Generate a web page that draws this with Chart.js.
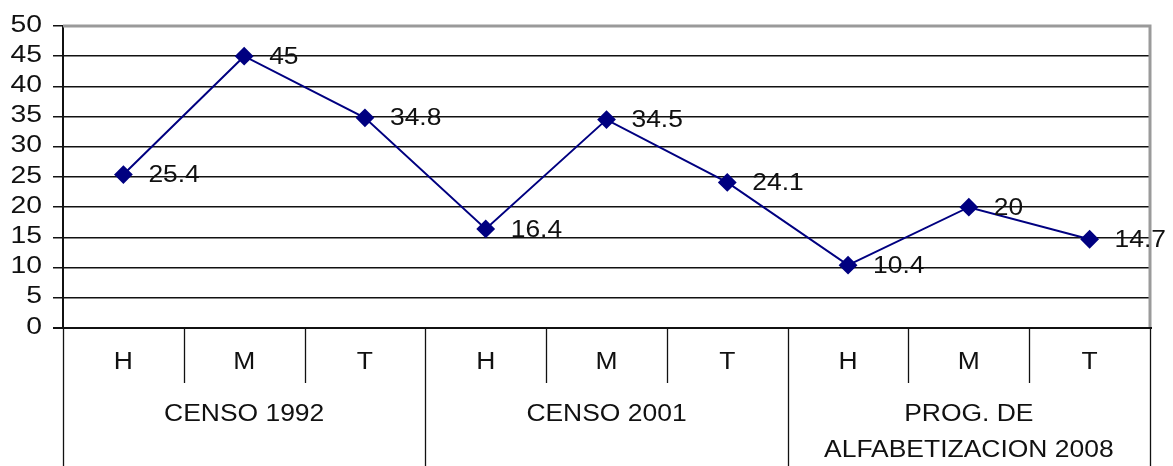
<!DOCTYPE html>
<html>
<head>
<meta charset="utf-8">
<script src="https://cdn.jsdelivr.net/npm/chart.js@4"></script>
<style>
html,body{margin:0;padding:0;background:#fff;}
#wrap{width:1173px;height:466px;position:relative;}
</style>
</head>
<body>
<div id="wrap"><canvas id="c" width="1173" height="466"></canvas></div>
<script>
const categories = ["H","M","T","H","M","T","H","M","T"];
const groups = [["CENSO 1992"],["CENSO 2001"],["PROG. DE","ALFABETIZACION 2008"]];
const groupSizes = [3,3,3];
const values = [25.4, 45, 34.8, 16.4, 34.5, 24.1, 10.4, 20, 14.7];
const valueLabels = ["25.4","45","34.8","16.4","34.5","24.1","10.4","20","14.7"];
const yTicks = [0,5,10,15,20,25,30,35,40,45,50];

const FONT = "'Liberation Sans', Arial, sans-serif";

function drawText(ctx, text, x, y, align, sx) {
  ctx.save();
  ctx.translate(x, y);
  ctx.scale(sx, 1);
  ctx.textAlign = align;
  ctx.fillText(text, 0, 0);
  ctx.restore();
}

const tablePlugin = {
  id: 'tablePlugin',
  afterDraw(chart) {
    const ctx = chart.ctx;
    const area = chart.chartArea;
    const xs = chart.scales.x;
    const ys = chart.scales.y;
    const H = chart.height;
    const n = categories.length;
    const step = (area.right - area.left) / n;
    ctx.save();
    // grey top & right border
    ctx.strokeStyle = '#9a9a9a';
    ctx.lineWidth = 3;
    ctx.beginPath();
    ctx.moveTo(area.left, area.top);
    ctx.lineTo(area.right, area.top);
    ctx.lineTo(area.right, area.bottom);
    ctx.stroke();
    // bottom axis line
    ctx.strokeStyle = '#111';
    ctx.lineWidth = 2;
    ctx.beginPath();
    ctx.moveTo(area.left - 10, area.bottom);
    ctx.lineTo(area.right + 2, area.bottom);
    ctx.stroke();
    // separators
    ctx.lineWidth = 1.3;
    let idx = 0;
    const groupBounds = [0];
    groupSizes.forEach(s => { idx += s; groupBounds.push(idx); });
    for (let i = 0; i <= n; i++) {
      const x = Math.round(area.left + i * step) + 0.5;
      const isGroup = groupBounds.includes(i);
      ctx.beginPath();
      ctx.moveTo(x, area.bottom);
      ctx.lineTo(x, isGroup ? H : area.bottom + 55);
      ctx.stroke();
    }
    ctx.fillStyle = '#111';
    ctx.textBaseline = 'middle';
    // y tick labels
    ctx.font = '24px ' + FONT;
    yTicks.forEach(v => {
      drawText(ctx, String(v), 42, ys.getPixelForValue(v) - 1, 'right', 1.18);
    });
    // category labels
    ctx.font = '23px ' + FONT;
    categories.forEach((c, i) => {
      drawText(ctx, c, xs.getPixelForValue(i), area.bottom + 35, 'center', 1.15);
    });
    // group labels
    groups.forEach((g, gi) => {
      const x0 = area.left + groupBounds[gi] * step;
      const x1 = area.left + groupBounds[gi + 1] * step;
      const cx = (x0 + x1) / 2;
      g.forEach((line, li) => {
        drawText(ctx, line, cx, area.bottom + 87 + li * 36, 'center', 1.15);
      });
    });
    // data labels
    ctx.font = '24px ' + FONT;
    const meta = chart.getDatasetMeta(0);
    meta.data.forEach((pt, i) => {
      drawText(ctx, valueLabels[i], pt.x + 25, pt.y + 1, 'left', 1.1);
    });
    ctx.restore();
  }
};

new Chart(document.getElementById('c'), {
  type: 'line',
  data: {
    labels: categories,
    datasets: [{
      data: values,
      borderColor: '#000080',
      backgroundColor: '#000080',
      borderWidth: 2,
      pointStyle: 'rectRot',
      pointRadius: 8,
      pointHoverRadius: 8,
      tension: 0,
      fill: false
    }]
  },
  options: {
    responsive: false,
    animation: false,
    events: [],
    layout: { padding: { top: 26, right: 23, left: 0, bottom: 0 } },
    plugins: { legend: { display: false }, tooltip: { enabled: false } },
    scales: {
      x: {
        type: 'category',
        offset: true,
        grid: { display: false, drawTicks: false },
        border: { display: false },
        ticks: { display: false },
        afterFit(s) { s.height = 138; }
      },
      y: {
        min: 0, max: 50,
        afterBuildTicks(s) { s.ticks = yTicks.map(v => ({ value: v })); },
        afterFit(s) { s.width = 63; },
        grid: { color: '#111', lineWidth: 1.5, tickLength: 10, drawTicks: true },
        border: { color: '#111', width: 2 },
        ticks: { display: false }
      }
    }
  },
  plugins: [tablePlugin]
});
</script>
</body>
</html>
